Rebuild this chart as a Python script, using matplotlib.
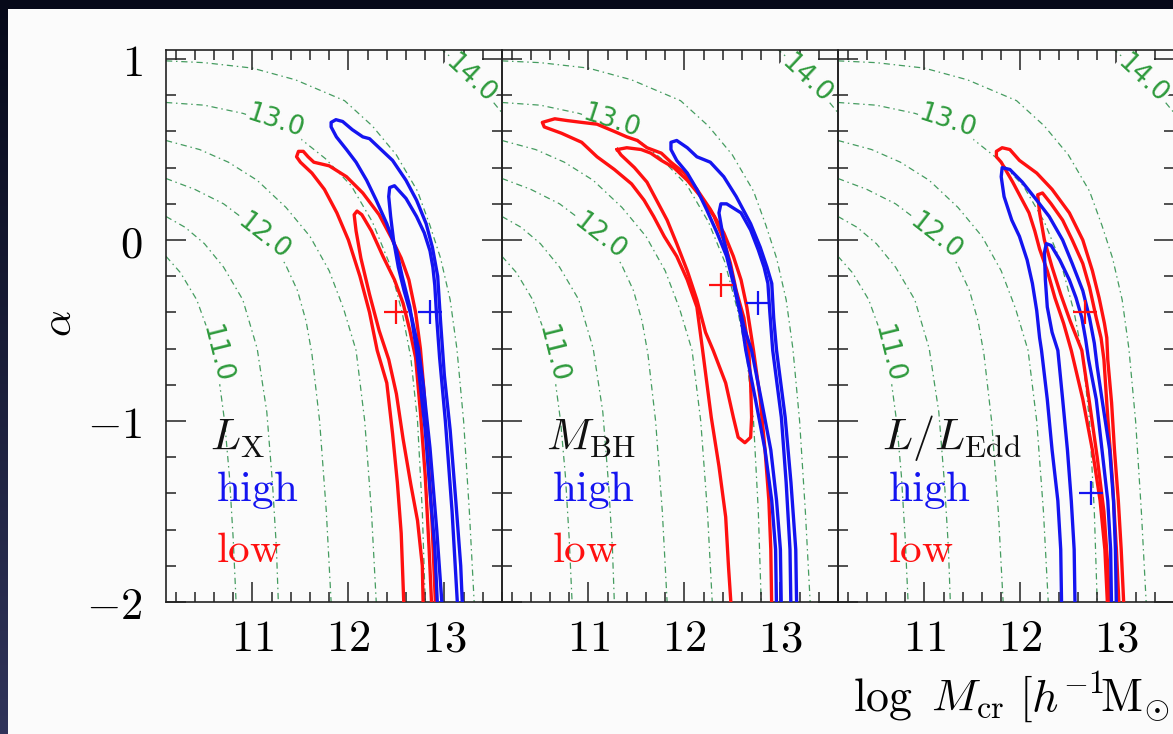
import numpy as np
import matplotlib
matplotlib.use('Agg')
import matplotlib.pyplot as plt
from matplotlib.patches import Rectangle
from matplotlib.colors import LinearSegmentedColormap
from matplotlib.ticker import FixedLocator, MultipleLocator

plt.rcParams['mathtext.fontset'] = 'cm'

# ---- model curves of constant mean halo mass (same in all three panels) ----
curve_110 = [(10.1, -0.09), (10.25, -0.18), (10.42, -0.33), (10.55, -0.52), (10.64, -0.72),
             (10.71, -1.0), (10.76, -1.3), (10.80, -1.65), (10.83, -2.0)]
curve_115 = [(10.1, 0.13), (10.3, 0.07), (10.5, -0.02), (10.7, -0.15), (10.9, -0.33),
             (11.05, -0.6), (11.15, -0.95), (11.21, -1.35), (11.25, -1.7), (11.27, -2.0)]
curve_120 = [(10.1, 0.34), (10.4, 0.28), (10.7, 0.20), (10.95, 0.10), (11.15, 0.0),
             (11.34, -0.13), (11.47, -0.28), (11.56, -0.45), (11.62, -0.63), (11.70, -1.0),
             (11.77, -1.5), (11.82, -2.0)]
curve_125 = [(10.1, 0.55), (10.45, 0.50), (10.75, 0.43), (11.05, 0.33), (11.35, 0.18),
             (11.6, 0.02), (11.8, -0.17), (11.95, -0.38), (12.08, -0.61), (12.17, -1.0),
             (12.24, -1.5), (12.29, -2.0)]
curve_130 = [(10.1, 0.76), (10.5, 0.745), (10.9, 0.70), (11.25, 0.64), (11.5, 0.56),
             (11.76, 0.45), (12.03, 0.30), (12.25, 0.10), (12.42, -0.12), (12.56, -0.40),
             (12.65, -0.65), (12.72, -1.0), (12.77, -1.5), (12.80, -2.0)]
curve_135 = [(10.1, 0.99), (10.5, 0.98), (11.0, 0.95), (11.45, 0.885), (11.96, 0.77),
             (12.25, 0.63), (12.5, 0.47), (12.72, 0.27), (12.85, 0.08), (12.96, -0.1),
             (13.06, -0.33), (13.13, -0.6), (13.2, -1.0), (13.26, -1.5), (13.31, -2.0)]
curve_140 = [(12.96, 1.06), (13.15, 0.97), (13.3, 0.88), (13.45, 0.80), (13.62, 0.69)]

curve_labels = ['11.0', '12.0', '13.0', '14.0']
label_x = [10.62, 11.12, 11.24, 13.27]
label_y = [-0.63, 0.02, 0.655, 0.89]
label_rot = [-76, -38, -18, -43]

# ---- confidence contours, panel 1 : L_X ----
lx_red_outer = [(12.58, -2.05), (12.55, -1.62), (12.51, -1.34), (12.46, -1.07), (12.40, -0.79),
                (12.30, -0.61), (12.22, -0.40), (12.12, -0.20), (12.00, 0.00), (11.88, 0.15),
                (11.75, 0.28), (11.62, 0.37), (11.50, 0.43), (11.46, 0.46), (11.48, 0.49),
                (11.53, 0.49), (11.58, 0.46), (11.64, 0.43), (11.72, 0.42), (11.80, 0.41),
                (11.98, 0.35), (12.15, 0.26), (12.32, 0.14), (12.45, 0.01), (12.55, -0.10),
                (12.63, -0.22), (12.70, -0.40), (12.75, -0.60), (12.79, -0.85), (12.83, -1.20),
                (12.87, -1.55), (12.89, -1.80), (12.91, -2.05)]
lx_red_inner = [(12.78, -2.05), (12.77, -1.80), (12.72, -1.55), (12.65, -1.35), (12.57, -1.10),
                (12.50, -0.85), (12.42, -0.66), (12.32, -0.50), (12.22, -0.30), (12.13, -0.10),
                (12.08, 0.05), (12.06, 0.14), (12.09, 0.16), (12.14, 0.14), (12.24, 0.05),
                (12.36, -0.09), (12.48, -0.22), (12.57, -0.35), (12.64, -0.50), (12.70, -0.65),
                (12.75, -0.95), (12.80, -1.30), (12.84, -1.70), (12.87, -2.05)]
lx_blue_outer = [(12.93, -2.05), (12.90, -1.70), (12.86, -1.45), (12.80, -1.05), (12.71, -0.61),
                 (12.64, -0.37), (12.56, -0.20), (12.50, -0.055), (12.40, 0.09), (12.29, 0.22),
                 (12.19, 0.33), (12.08, 0.43), (11.98, 0.50), (11.875, 0.57), (11.82, 0.625),
                 (11.82, 0.65), (11.87, 0.665), (11.94, 0.655), (12.04, 0.61), (12.15, 0.57),
                 (12.22, 0.56), (12.32, 0.51), (12.46, 0.44), (12.60, 0.33), (12.71, 0.22),
                 (12.81, 0.09), (12.875, -0.04), (12.93, -0.20), (12.96, -0.45), (13.00, -0.75),
                 (13.06, -1.05), (13.12, -1.45), (13.17, -1.80), (13.19, -2.05)]
lx_blue_inner = [(12.98, -2.05), (12.92, -1.60), (12.85, -1.15), (12.78, -0.80), (12.73, -0.60),
                 (12.66, -0.43), (12.58, -0.28), (12.52, -0.15), (12.47, 0.00), (12.44, 0.13),
                 (12.42, 0.24), (12.43, 0.29), (12.48, 0.30), (12.60, 0.23), (12.71, 0.13),
                 (12.79, 0.04), (12.85, -0.06), (12.88, -0.15), (12.90, -0.25), (12.92, -0.43),
                 (12.95, -0.65), (13.01, -1.0), (13.08, -1.5), (13.14, -2.05)]

# ---- panel 2 : M_BH ----
mbh_red_outer = [(12.49, -2.05), (12.46, -1.81), (12.43, -1.53), (12.36, -1.25), (12.28, -0.98),
                 (12.19, -0.61), (12.13, -0.37), (12.03, -0.22), (11.92, -0.09), (11.79, 0.02),
                 (11.68, 0.13), (11.58, 0.22), (11.45, 0.31), (11.27, 0.39), (11.09, 0.46),
                 (10.93, 0.54), (10.72, 0.59), (10.54, 0.625), (10.52, 0.65), (10.65, 0.67),
                 (10.78, 0.66), (10.93, 0.65), (11.09, 0.64), (11.27, 0.60), (11.40, 0.57),
                 (11.51, 0.55), (11.61, 0.51), (11.76, 0.48), (11.86, 0.43), (12.00, 0.37),
                 (12.13, 0.28), (12.27, 0.17), (12.41, 0.04), (12.51, -0.09), (12.59, -0.22),
                 (12.65, -0.37), (12.72, -0.61), (12.79, -0.88), (12.84, -1.16), (12.88, -1.44),
                 (12.90, -1.71), (12.91, -2.05)]
mbh_red_inner = [(11.30, 0.50), (11.40, 0.51), (11.55, 0.50), (11.65, 0.48), (11.76, 0.44),
                 (11.89, 0.40), (12.03, 0.33), (12.17, 0.24), (12.31, 0.13), (12.41, 0.00),
                 (12.48, -0.13), (12.54, -0.28), (12.62, -0.43), (12.67, -0.61), (12.69, -0.79),
                 (12.70, -0.98), (12.69, -1.09), (12.63, -1.12), (12.56, -1.09), (12.51, -0.98),
                 (12.43, -0.79), (12.30, -0.61), (12.22, -0.51), (12.13, -0.33), (12.03, -0.17),
                 (11.92, -0.02), (11.82, 0.11), (11.71, 0.22), (11.61, 0.32), (11.48, 0.40),
                 (11.34, 0.47), (11.30, 0.50)]
mbh_blue_outer = [(12.96, -2.05), (12.95, -1.71), (12.91, -1.44), (12.84, -1.16), (12.74, -0.88),
                  (12.64, -0.61), (12.59, -0.43), (12.51, -0.24), (12.44, -0.09), (12.34, 0.04),
                  (12.23, 0.17), (12.13, 0.28), (12.03, 0.37), (11.92, 0.44), (11.86, 0.50),
                  (11.86, 0.54), (11.92, 0.55), (12.03, 0.51), (12.13, 0.46), (12.27, 0.43),
                  (12.41, 0.35), (12.54, 0.24), (12.69, 0.09), (12.79, -0.04), (12.86, -0.15),
                  (12.91, -0.24), (12.93, -0.43), (12.96, -0.61), (13.05, -0.98), (13.11, -1.34),
                  (13.16, -1.71), (13.17, -2.05)]
mbh_blue_inner = [(13.01, -2.05), (13.00, -1.71), (12.96, -1.44), (12.90, -1.16), (12.80, -0.88),
                  (12.70, -0.61), (12.62, -0.48), (12.54, -0.29), (12.48, -0.15), (12.41, 0.00),
                  (12.36, 0.15), (12.38, 0.20), (12.44, 0.20), (12.59, 0.15), (12.69, 0.055),
                  (12.77, -0.055), (12.83, -0.15), (12.87, -0.24), (12.89, -0.40), (12.92, -0.61),
                  (13.01, -0.98), (13.06, -1.34), (13.10, -1.71), (13.11, -2.05)]

# ---- panel 3 : L/L_Edd ----
edd_red_outer = [(12.91, -2.05), (12.88, -1.71), (12.83, -1.44), (12.75, -1.16), (12.65, -0.88),
                 (12.53, -0.61), (12.45, -0.46), (12.36, -0.32), (12.28, -0.17), (12.20, -0.05),
                 (12.15, 0.05), (12.09, 0.15), (12.02, 0.22), (11.92, 0.32), (11.80, 0.43),
                 (11.75, 0.46), (11.75, 0.49), (11.81, 0.51), (11.89, 0.50), (11.99, 0.44),
                 (12.17, 0.37), (12.33, 0.28), (12.51, 0.15), (12.65, 0.00), (12.75, -0.17),
                 (12.82, -0.32), (12.875, -0.46), (12.90, -0.54), (12.91, -0.66), (12.95, -0.90),
                 (12.98, -1.16), (13.02, -1.44), (13.05, -1.71), (13.08, -2.05)]
edd_red_inner = [(12.93, -2.05), (12.91, -1.80), (12.87, -1.50), (12.80, -1.20), (12.72, -0.90),
                 (12.64, -0.61), (12.52, -0.45), (12.42, -0.30), (12.33, -0.15), (12.25, 0.00),
                 (12.20, 0.15), (12.18, 0.25), (12.23, 0.26), (12.32, 0.20), (12.44, 0.11),
                 (12.54, 0.00), (12.65, -0.13), (12.72, -0.26), (12.79, -0.43), (12.84, -0.54),
                 (12.87, -0.66), (12.91, -0.98), (12.96, -1.34), (13.00, -1.71), (13.03, -2.05)]
edd_blue_outer = [(12.43, -2.05), (12.42, -1.71), (12.39, -1.44), (12.33, -1.16), (12.28, -0.88),
                  (12.22, -0.61), (12.20, -0.54), (12.17, -0.39), (12.125, -0.24), (12.07, -0.11),
                  (11.99, 0.02), (11.91, 0.11), (11.83, 0.24), (11.80, 0.35), (11.81, 0.40),
                  (11.89, 0.39), (12.02, 0.32), (12.17, 0.22), (12.30, 0.13), (12.44, 0.00),
                  (12.54, -0.13), (12.65, -0.28), (12.72, -0.43), (12.77, -0.57), (12.80, -0.70),
                  (12.85, -0.88), (12.93, -1.16), (12.97, -1.44), (12.99, -1.71), (13.00, -2.05)]
edd_blue_inner = [(12.57, -2.05), (12.56, -1.71), (12.53, -1.44), (12.49, -1.16), (12.44, -0.88),
                  (12.39, -0.61), (12.33, -0.51), (12.28, -0.37), (12.26, -0.22), (12.25, -0.07),
                  (12.27, -0.02), (12.32, -0.03), (12.41, -0.11), (12.51, -0.22), (12.58, -0.32),
                  (12.64, -0.43), (12.68, -0.55), (12.71, -0.66), (12.79, -0.88), (12.85, -1.16),
                  (12.91, -1.44), (12.94, -1.71), (12.95, -2.05)]

# best-fit points (log Mcr, alpha)
red_best_x = [12.50, 12.38, 12.67]
red_best_y = [-0.40, -0.25, -0.40]
blue_best_x = [12.85, 12.77, 12.74]
blue_best_y = [-0.40, -0.35, -1.40]

panel_names = [r'$L_{\rm X}$', r'$M_{\rm BH}$', r'$L/L_{\rm Edd}$']
xtick_vals = [11, 12, 13]
xtick_text = ['$11$', '$12$', '$13$']
ytick_vals = [-2, -1, 0, 1]
ytick_text = ['$-2$', '$-1$', '$0$', '$1$']

W, H = 1173, 734
RED = '#ff1010'
BLUE = '#1414f0'
GREEN = '#459c60'
PAPER = '#fbfbfb'

fig = plt.figure(figsize=(W / 100, H / 100), dpi=100)

# slide background: dark frame and white page
bg = fig.add_axes([0, 0, 1, 1], zorder=-10)
cmap = LinearSegmentedColormap.from_list('frame', ['#060919', '#30345a'])
bg.imshow(np.linspace(0, 1, 256).reshape(-1, 1), cmap=cmap, aspect='auto',
          extent=[0, 1, 0, 1], origin='upper')
bg.add_patch(Rectangle((8 / W, 0), 1, (H - 9) / H, color=PAPER, lw=0))
bg.set_xlim(0, 1)
bg.set_ylim(0, 1)
bg.axis('off')

all_contours = [
    (lx_red_outer, lx_red_inner, lx_blue_outer, lx_blue_inner),
    (mbh_red_outer, mbh_red_inner, mbh_blue_outer, mbh_blue_inner),
    (edd_red_outer, edd_red_inner, edd_blue_outer, edd_blue_inner),
]
model_curves = [curve_110, curve_115, curve_120, curve_125, curve_130, curve_135, curve_140]

lefts = [166, 502, 838]
for i, left in enumerate(lefts):
    ax = fig.add_axes([left / W, 132 / H, 336 / W, 552 / H])
    ax.set_facecolor('none')
    ax.set_xlim(10.1, 13.6)
    ax.set_ylim(-2, 1.05)

    for c in model_curves:
        cx, cy = zip(*c)
        ax.plot(cx, cy, color=GREEN, lw=0.9, dashes=(5, 3, 1.2, 3), zorder=1)
    for t, lx, ly, r in zip(curve_labels, label_x, label_y, label_rot):
        ax.text(lx, ly, t, color='#2e9a3c', fontsize=19, rotation=r,
                ha='center', va='center', rotation_mode='anchor', zorder=2,
                bbox=dict(boxstyle='square,pad=0.03', fc=PAPER, ec='none'))

    ro, ri, bo, bi = all_contours[i]
    for c, col in [(ro, RED), (ri, RED), (bo, BLUE), (bi, BLUE)]:
        cx, cy = zip(*c)
        ax.plot(cx, cy, color=col, lw=2.4, zorder=3, solid_joinstyle='round')

    ax.plot(red_best_x[i], red_best_y[i], marker='+', ms=17, mew=1.6, color=RED, zorder=4)
    ax.plot(blue_best_x[i], blue_best_y[i], marker='+', ms=17, mew=1.6, color=BLUE, zorder=4)

    ax.text(10.56, -1.16, panel_names[i], fontsize=32, ha='left', va='baseline', color='#111')
    ax.text(10.62, -1.44, r'$\mathrm{high}$', fontsize=31, ha='left', va='baseline', color=BLUE)
    ax.text(10.62, -1.78, r'$\mathrm{low}$', fontsize=31, ha='left', va='baseline', color=RED)

    ax.xaxis.set_major_locator(FixedLocator(xtick_vals))
    ax.xaxis.set_minor_locator(MultipleLocator(0.2))
    ax.yaxis.set_major_locator(FixedLocator(ytick_vals))
    ax.yaxis.set_minor_locator(MultipleLocator(0.2))
    ax.set_xticklabels(xtick_text, fontsize=32)
    if i == 0:
        ax.set_yticklabels(ytick_text, fontsize=32)
    else:
        ax.set_yticklabels([])
    ax.tick_params(which='both', direction='in', top=True, right=True,
                   width=1.1, color='#222222')
    ax.tick_params(which='major', length=14.4)
    ax.tick_params(which='minor', length=7.2)
    ax.tick_params(axis='x', which='major', pad=11)
    ax.tick_params(axis='y', which='major', pad=17)
    for s in ax.spines.values():
        s.set_linewidth(1.2)
        s.set_color('#222222')

fig.text(59 / W, 1 - 323 / H, r'$\alpha$', rotation=90, fontsize=30, ha='center', va='center')
fig.text(853 / W, 1 - 711 / H, r'$\log\ M_{\rm cr}\ [h^{-1}\!{\rm M}_{\odot}]$',
         fontsize=33, ha='left', va='baseline')

fig.savefig('out.png', dpi=100, facecolor=fig.get_facecolor())
